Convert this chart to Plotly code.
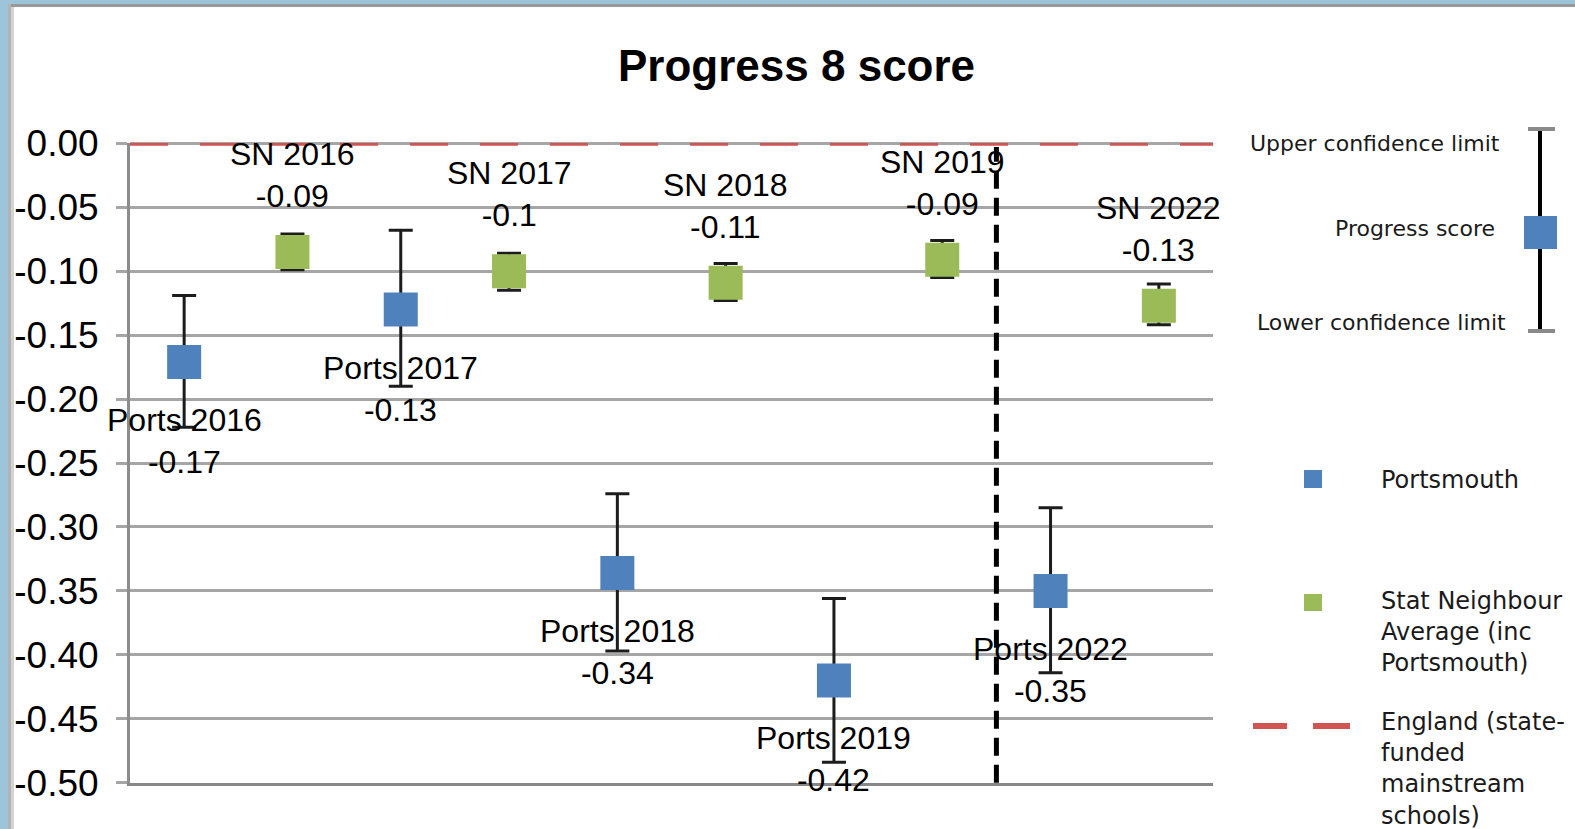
import plotly.graph_objects as go

# ---------------- data ----------------
ports_names = ["Ports 2016", "Ports 2017", "Ports 2018", "Ports 2019", "Ports 2022"]
ports_values = [-0.171, -0.130, -0.336, -0.420, -0.350]
ports_labels = ["-0.17", "-0.13", "-0.34", "-0.42", "-0.35"]
ports_upper = [-0.119, -0.068, -0.274, -0.356, -0.285]
ports_lower = [-0.222, -0.190, -0.397, -0.484, -0.414]

sn_names = ["SN 2016", "SN 2017", "SN 2018", "SN 2019", "SN 2022"]
sn_values = [-0.085, -0.100, -0.109, -0.091, -0.127]
sn_labels = ["-0.09", "-0.1", "-0.11", "-0.09", "-0.13"]
sn_upper = [-0.071, -0.086, -0.094, -0.076, -0.110]
sn_lower = [-0.099, -0.115, -0.123, -0.105, -0.142]

england_value = 0.00
categories = [n for pair in zip(ports_names, sn_names) for n in pair]
divider_after = "SN 2019"  # dashed separator between 2019 and 2022

y_ticks = [0.00, -0.05, -0.10, -0.15, -0.20, -0.25, -0.30, -0.35, -0.40, -0.45, -0.50]
y_tick_text = ["0.00", "-0.05", "-0.10", "-0.15", "-0.20", "-0.25", "-0.30", "-0.35", "-0.40", "-0.45", "-0.50"]

# ---------------- layout helpers (pixels -> paper) ----------------
W, H = 1575, 829
L, R, T, B = 130, 1213, 143, 783


def px(xp):
    return (xp - L) / (R - L)


def py(yp):
    return (B - yp) / (B - T)


BLUE = "#4f81bd"
GREEN = "#9bbb59"
RED = "#cf5452"
GRID = "#a6a6a6"
FONT = "Liberation Sans, Arial, sans-serif"
LFONT = "DejaVu Sans, Verdana, sans-serif"

fig = go.Figure()

fig.add_trace(go.Scatter(
    x=ports_names, y=ports_values, mode="markers", name="Portsmouth",
    marker=dict(symbol="square", size=34, color=BLUE, line=dict(width=0)),
    error_y=dict(type="data", symmetric=False,
                 array=[u - v for u, v in zip(ports_upper, ports_values)],
                 arrayminus=[v - lo for v, lo in zip(ports_values, ports_lower)],
                 color="#1c1c1c", thickness=3, width=12),
    cliponaxis=False, showlegend=False, hoverinfo="skip"))

fig.add_trace(go.Scatter(
    x=sn_names, y=sn_values, mode="markers", name="Stat Neighbour Average (inc Portsmouth)",
    marker=dict(symbol="square", size=34, color=GREEN, line=dict(width=0)),
    error_y=dict(type="data", symmetric=False,
                 array=[u - v for u, v in zip(sn_upper, sn_values)],
                 arrayminus=[v - lo for v, lo in zip(sn_values, sn_lower)],
                 color="#1c1c1c", thickness=3, width=12),
    cliponaxis=False, showlegend=False, hoverinfo="skip"))

annotations = []
for n, v, lab in zip(ports_names, ports_values, ports_labels):
    annotations.append(dict(x=n, y=v, xref="x", yref="y", text=f"{n}<br>{lab}",
                            showarrow=False, yshift=-79, yanchor="middle",
                            font=dict(family=FONT, size=32, color="#000000")))
for n, v, lab in zip(sn_names, sn_values, sn_labels):
    annotations.append(dict(x=n, y=v, xref="x", yref="y", text=f"{n}<br>{lab}",
                            showarrow=False, yshift=77, yanchor="middle",
                            font=dict(family=FONT, size=32, color="#000000")))

# title
annotations.append(dict(x=px(796), y=py(66), xref="paper", yref="paper",
                        text="<b>Progress 8 score</b>", showarrow=False,
                        xanchor="center", yanchor="middle",
                        font=dict(family=FONT, size=44, color="#000000")))

# legend texts (error bar key)
for txt, xr, yc in [("Upper confidence limit", 1502, 143),
                    ("Progress score", 1497, 228),
                    ("Lower confidence limit", 1508, 322)]:
    annotations.append(dict(x=px(xr), y=py(yc), xref="paper", yref="paper", text=txt,
                            showarrow=False, xanchor="right", yanchor="middle",
                            font=dict(family=LFONT, size=22, color="#1a1a1a")))

for txt, yc in [("Portsmouth", 480),
                ("Stat Neighbour<br>Average (inc<br>Portsmouth)", 632),
                ("England (state-<br>funded<br>mainstream<br>schools)", 769)]:
    annotations.append(dict(x=px(1379), y=py(yc), xref="paper", yref="paper", text=txt,
                            showarrow=False, xanchor="left", yanchor="middle", align="left",
                            font=dict(family=LFONT, size=24, color="#1a1a1a")))

shapes = []
# outer frame strips
shapes.append(dict(type="rect", xref="paper", yref="paper", x0=px(0), x1=px(8), y0=py(0), y1=py(H),
                   fillcolor="#9dc4da", line=dict(width=0), layer="below"))
shapes.append(dict(type="rect", xref="paper", yref="paper", x0=px(0), x1=px(W), y0=py(0), y1=py(4),
                   fillcolor="#9dc4da", line=dict(width=0), layer="below"))
shapes.append(dict(type="rect", xref="paper", yref="paper", x0=px(8), x1=px(W), y0=py(4), y1=py(7),
                   fillcolor="#989898", line=dict(width=0), layer="below"))
shapes.append(dict(type="rect", xref="paper", yref="paper", x0=px(8), x1=px(11), y0=py(4), y1=py(H),
                   fillcolor="#b4b4b4", line=dict(width=0), layer="below"))
shapes.append(dict(type="rect", xref="paper", yref="paper", x0=px(11), x1=px(14), y0=py(7), y1=py(H),
                   fillcolor="#d4d4d4", line=dict(width=0), layer="below"))

# England line
shapes.append(dict(type="line", xref="paper", yref="y", x0=0, x1=1, y0=england_value, y1=england_value,
                   line=dict(color=RED, width=5, dash="38px,32px"), layer="above"))
# divider
div_idx = categories.index(divider_after) + 0.5
shapes.append(dict(type="line", xref="x", yref="y", x0=div_idx, x1=div_idx, y0=-0.5, y1=-0.003,
                   line=dict(color="#000000", width=5, dash="18px,9px"), layer="above"))

# legend key: error bar icon
shapes.append(dict(type="line", xref="paper", yref="paper", x0=px(1540), x1=px(1540), y0=py(129), y1=py(331),
                   line=dict(color="#000000", width=4)))
for yc in (129, 331):
    shapes.append(dict(type="line", xref="paper", yref="paper", x0=px(1528), x1=px(1555), y0=py(yc), y1=py(yc),
                       line=dict(color="#8a8a8a", width=4)))
shapes.append(dict(type="rect", xref="paper", yref="paper", x0=px(1524), x1=px(1557), y0=py(249), y1=py(216),
                   fillcolor=BLUE, line=dict(width=0)))
# legend symbols
shapes.append(dict(type="rect", xref="paper", yref="paper", x0=px(1304), x1=px(1322), y0=py(488), y1=py(470),
                   fillcolor=BLUE, line=dict(width=0)))
shapes.append(dict(type="rect", xref="paper", yref="paper", x0=px(1304), x1=px(1322), y0=py(611), y1=py(594),
                   fillcolor=GREEN, line=dict(width=0)))
for x0, x1 in ((1253, 1287), (1313, 1350)):
    shapes.append(dict(type="line", xref="paper", yref="paper", x0=px(x0), x1=px(x1), y0=py(726), y1=py(726),
                       line=dict(color=RED, width=6)))

fig.update_layout(
    width=W, height=H,
    margin=dict(l=L, r=W - R, t=T, b=H - B, pad=0, autoexpand=False),
    paper_bgcolor="#ffffff", plot_bgcolor="#ffffff",
    showlegend=False,
    annotations=annotations, shapes=shapes,
    xaxis=dict(type="category", categoryorder="array", categoryarray=categories,
               range=[-0.5, len(categories) - 0.5], showticklabels=False, ticks="",
               automargin=False,
               showgrid=False, zeroline=False, showline=True, linecolor="#878787", linewidth=3),
    yaxis=dict(range=[-0.5002, 0.0002], tickvals=y_ticks, ticktext=y_tick_text,
               automargin=False,
               showgrid=True, gridcolor=GRID, gridwidth=3,
               zeroline=True, zerolinecolor=GRID, zerolinewidth=3,
               showline=True, linecolor="#8c8c8c", linewidth=3,
               ticks="outside", ticklen=11, tickwidth=3, tickcolor=GRID,
               ticklabelstandoff=10,
               tickfont=dict(family=FONT, size=37, color="#000000")),
)

fig.write_html("out.html", config={"displayModeBar": False},
               post_script="document.body.style.margin='0';document.body.style.overflow='hidden';")
